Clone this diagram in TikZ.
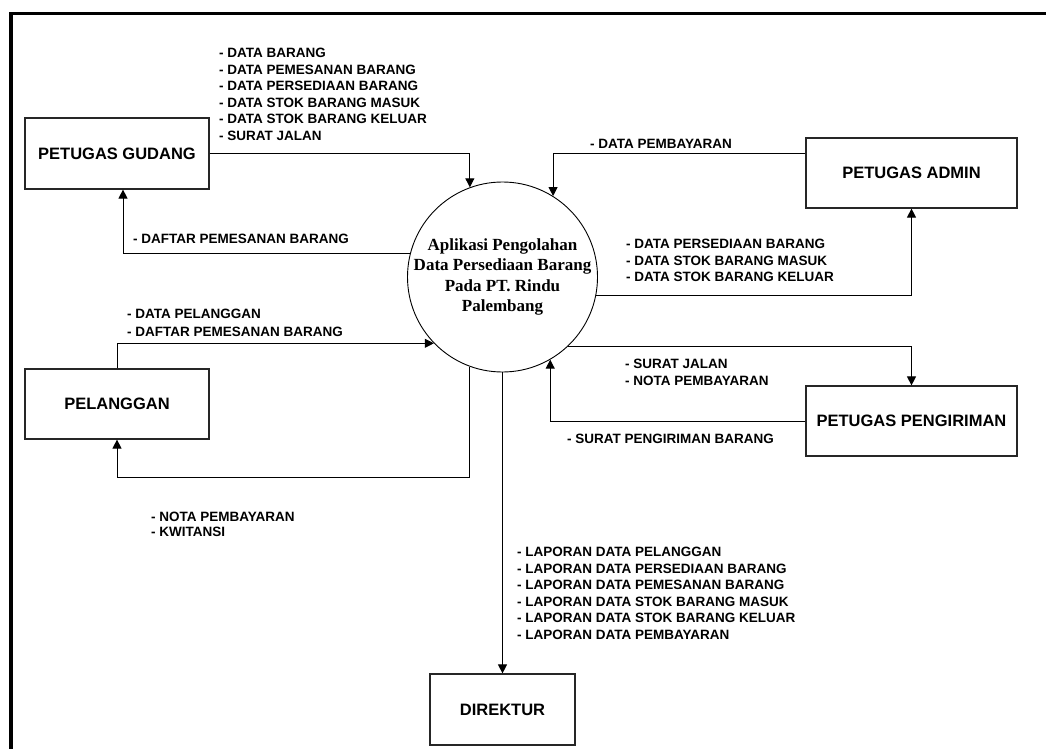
\documentclass[tikz,border=0pt]{standalone}
\usepackage{fontspec}
\setmainfont{Liberation Sans}
\newfontfamily\procfont{Liberation Serif}
\usetikzlibrary{arrows.meta}

\begin{document}
\begin{tikzpicture}[x=1pt,y=-1pt,
  entity/.style={draw=black!85, line width=1.2pt, fill=white, inner sep=0pt,
    font=\fontsize{16.5}{20}\selectfont\bfseries},
  flow/.style={draw, line width=1pt, -{Triangle[length=9pt,width=9pt]}},
  lbl/.style={anchor=north west, inner sep=0pt, align=left,
    font=\fontsize{13.5}{16.5}\selectfont\bfseries}]
\useasboundingbox (0,0) rectangle (1046,749);
\fill[white] (0,0) rectangle (1046,749);

% page frame (top and left edges)
\draw[line width=3.6pt] (11,749) -- (11,13.5) -- (1046,13.5);

% process
\node[circle, draw, line width=0.9pt, minimum size=190pt, inner sep=0pt] (proc) at (502.5,277) {};
\node[align=center, inner sep=0pt, font=\fontsize{17}{20.6}\selectfont\procfont\bfseries] (proctext) at (proc.center)
  {Aplikasi Pengolahan\\Data Persediaan Barang\\Pada PT. Rindu\\Palembang};

% external entities
\node[entity, minimum width=184pt, minimum height=71pt] (gudang) at (117,153.5) {PETUGAS GUDANG};
\node[entity, minimum width=211pt, minimum height=70pt] (admin) at (911.5,173) {PETUGAS ADMIN};
\node[entity, minimum width=184pt, minimum height=70pt] (pel) at (117,404) {PELANGGAN};
\node[entity, minimum width=211pt, minimum height=70pt] (kirim) at (911.5,421) {PETUGAS PENGIRIMAN};
\node[entity, minimum width=145pt, minimum height=71pt] (dir) at (502.5,709.5) {DIREKTUR};

% data flows
\draw[flow] (gudang.east) -| (proc.110);
\draw[flow] (proc.166) -| ([xshift=6pt]gudang.south);
\draw[flow] ([yshift=20pt]admin.west) -| (proc.58);
\draw[flow] (proc.-11.5) -| (admin.south);
\draw[flow] (pel.north) |- (proc.224);
\draw[flow] (proc.250) -- ++(0,111) -| (pel.south);
\draw[flow] (proc.-47.5) -| (kirim.north);
\draw[flow] (kirim.west) -| (proc.-60.3);
\draw[flow] (proc.south) -- (dir.north);

% flow labels
\node[lbl] (lgudang) at (219,48) {- DATA BARANG\\- DATA PEMESANAN BARANG\\- DATA PERSEDIAAN BARANG\\- DATA STOK BARANG MASUK\\- DATA STOK BARANG KELUAR\\- SURAT JALAN};
\node[lbl] (ldaftar) at (133,234) {- DAFTAR PEMESANAN BARANG};
\node[lbl] (lbayar) at (590,139) {- DATA PEMBAYARAN};
\node[lbl] (ladmin) at (626,239) {- DATA PERSEDIAAN BARANG\\- DATA STOK BARANG MASUK\\- DATA STOK BARANG KELUAR};
\node[lbl, font=\fontsize{13.5}{17.7}\selectfont\bfseries] (lpel) at (127,309) {- DATA PELANGGAN\\- DAFTAR PEMESANAN BARANG};
\node[lbl, font=\fontsize{13.5}{17}\selectfont\bfseries] (lkirim) at (625,359) {- SURAT JALAN\\- NOTA PEMBAYARAN};
\node[lbl] (lsurat) at (567,434) {- SURAT PENGIRIMAN BARANG};
\node[lbl, font=\fontsize{13.5}{15}\selectfont\bfseries] (lnota) at (151,512) {- NOTA PEMBAYARAN\\- KWITANSI};
\node[lbl] (llaporan) at (517,547) {- LAPORAN DATA PELANGGAN\\- LAPORAN DATA PERSEDIAAN BARANG\\- LAPORAN DATA PEMESANAN BARANG\\- LAPORAN DATA STOK BARANG MASUK\\- LAPORAN DATA STOK BARANG KELUAR\\- LAPORAN DATA PEMBAYARAN};
\end{tikzpicture}
\end{document}
